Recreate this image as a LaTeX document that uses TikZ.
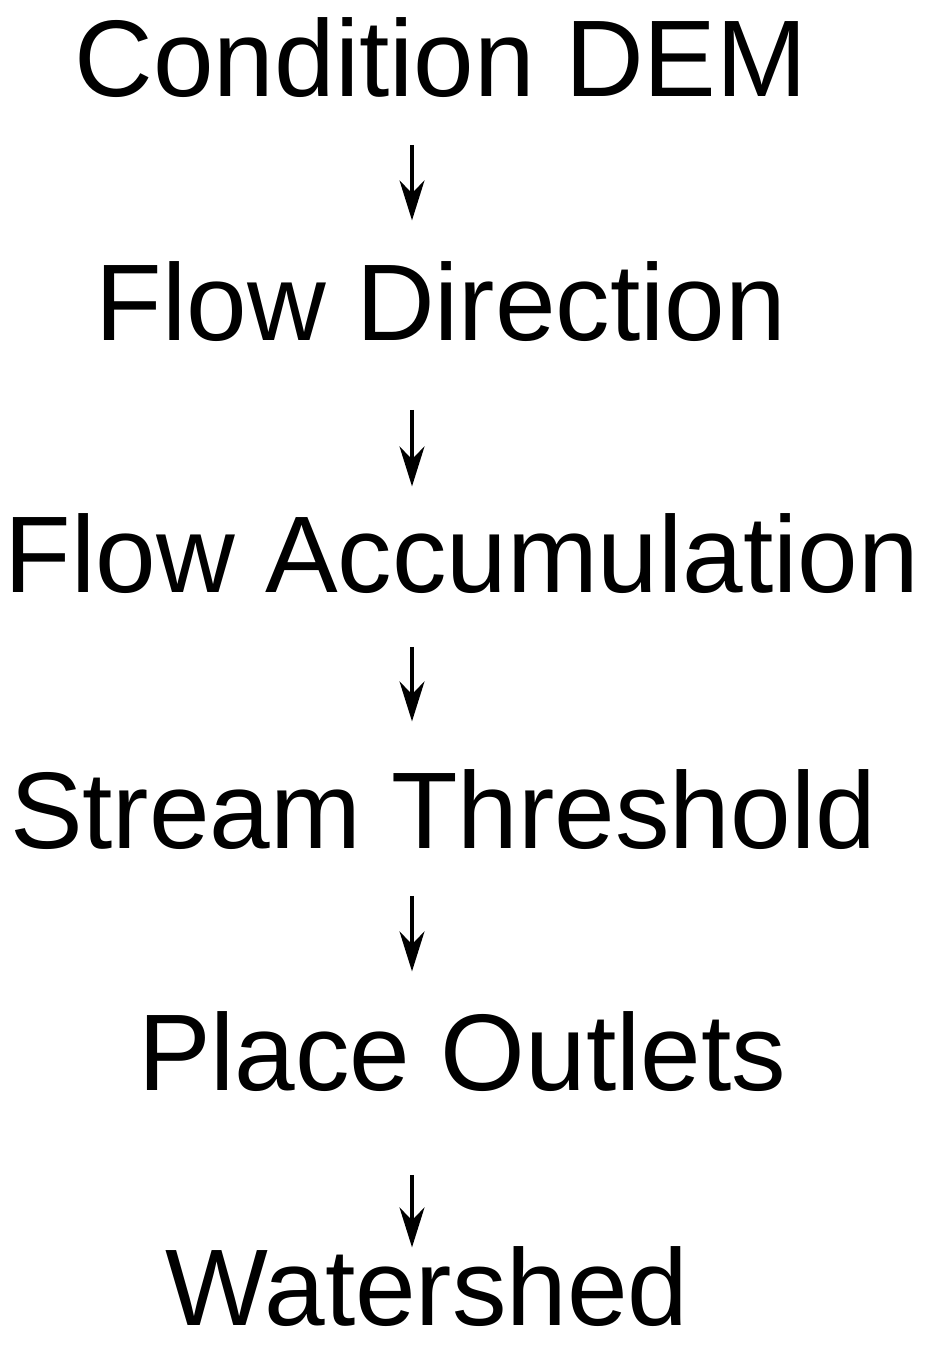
\documentclass[tikz,border=0pt]{standalone}
\usepackage{fontspec}
\setmainfont{Liberation Sans}
\usetikzlibrary{arrows.meta}
\definecolor{ink}{HTML}{000000}
\tikzset{
  >={Stealth[length=4mm,width=2.5mm,inset=1.3mm]},
  flow/.style={draw=ink, line width=.9pt, ->},
  stepname/.style={text=ink, anchor=base, inner sep=0pt,
    font=\fontsize{31pt}{36pt}\selectfont}
}
\begin{document}
\begin{tikzpicture}[x=0.1mm,y=-0.1mm]
  \useasboundingbox (0,0) rectangle (926,1350);
  \coordinate (axis) at (412,0);

  % steps, top to bottom
  \node[stepname] (cond) at (441,97) {Condition DEM};
  \node[stepname] (fdir) at (441,340) {Flow Direction};
  \node[stepname] (facc) at (462,592) {Flow Accumulation};
  \node[stepname] (thresh) at (443,848) {Stream Threshold};
  \node[stepname] (outlets) at (462,1090) {Place Outlets};
  \node[stepname] (shed) at (427,1325) {Watershed};

  % arrows between steps
  \draw[flow, shorten <=4.6mm, shorten >=4mm] (cond.south -| axis) -- (fdir.north -| axis);
  \draw[flow, shorten <=6.8mm, shorten >=2.6mm] (fdir.south -| axis) -- (facc.north -| axis);
  \draw[flow, shorten <=5.3mm, shorten >=4.7mm] (facc.south -| axis) -- (thresh.north -| axis);
  \draw[flow, shorten <=4.6mm, shorten >=3.9mm] (thresh.south -| axis) -- (outlets.north -| axis);
  \draw[flow, shorten <=8.3mm, shorten >=-0.2mm] (outlets.south -| axis) -- (shed.north -| axis);
\end{tikzpicture}
\end{document}
